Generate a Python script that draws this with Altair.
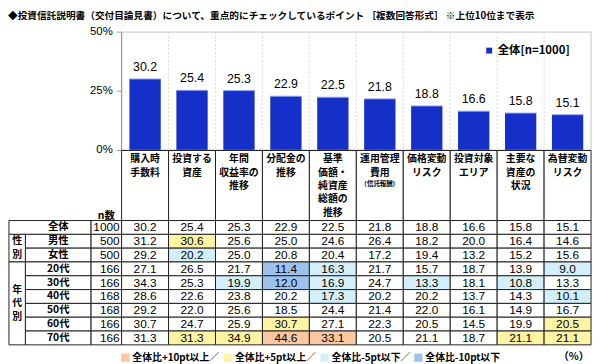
import altair as alt
import pandas as pd

# ---------------- data ----------------
TITLE = "◆投資信託説明書（交付目論見書）について、重点的にチェックしているポイント ［複数回答形式］ ※上位10位まで表示"

categories = ["購入時\n手数料", "投資する\n資産", "年間\n収益率の\n推移", "分配金の\n推移",
              "基準\n価額・\n純資産\n総額の\n推移", "運用管理\n費用", "価格変動\nリスク",
              "投資対象\nエリア", "主要な\n資産の\n状況", "為替変動\nリスク"]
category_notes = ["", "", "", "", "", "（信託報酬）", "", "", "", ""]
series_name = "全体[n=1000]"
overall = [30.2, 25.4, 25.3, 22.9, 22.5, 21.8, 18.8, 16.6, 15.8, 15.1]

row_labels = ["全体", "男性", "女性", "20代", "30代", "40代", "50代", "60代", "70代"]
row_groups = ["", "性別", "性別", "年代別", "年代別", "年代別", "年代別", "年代別", "年代別"]
row_n = [1000, 500, 500, 166, 166, 168, 168, 166, 166]
row_values = [
    overall,
    [31.2, 30.6, 25.6, 25.0, 24.6, 26.4, 18.2, 20.0, 16.4, 14.6],
    [29.2, 20.2, 25.0, 20.8, 20.4, 17.2, 19.4, 13.2, 15.2, 15.6],
    [27.1, 26.5, 21.7, 11.4, 16.3, 21.7, 15.7, 18.7, 13.9, 9.0],
    [34.3, 25.3, 19.9, 12.0, 16.9, 24.7, 13.3, 18.1, 10.8, 13.3],
    [28.6, 22.6, 23.8, 20.2, 17.3, 20.2, 20.2, 13.7, 14.3, 10.1],
    [29.2, 22.0, 25.6, 18.5, 24.4, 21.4, 22.0, 16.1, 14.9, 16.7],
    [30.7, 24.7, 25.9, 30.7, 27.1, 22.3, 20.5, 14.5, 19.9, 20.5],
    [31.3, 31.3, 34.9, 44.6, 33.1, 20.5, 21.1, 18.7, 21.1, 21.1],
]
y_ticks = [0, 25, 50]
legend_labels = ["全体比+10pt以上／", "全体比+5pt以上／", "全体比-5pt以下／", "全体比-10pt以下"]
n_header = "n数"
unit_label = "（%）"

# ---------------- styles / layout ----------------
JP = "Noto Sans CJK JP"
NUM = "Liberation Sans"
BAR_COLOR = "#1530C8"
HL_COLORS = ["#F9C7A0", "#FFF4A3", "#D3F0FA", "#9FC2EC"]
NONE = "なし"
LINE = "#222222"

COL_GROUP, COL_LABEL, COL_N = -2.40, -2.05, -0.65
X_DOMAIN = [-2.42, 10.02]
PANEL_W = 592
BAR_H = 120
ROW_PX = 14
HEADER_PX = 71
HEADER_ROWS = HEADER_PX / ROW_PX
GROUP_CHAR_PX = 13.5
ncat = len(categories)
nrows = len(row_labels)
TABLE_H = HEADER_PX + ROW_PX * nrows
ymax = max(y_ticks)

xs = alt.Scale(domain=X_DOMAIN, nice=False, zero=False)
ys = alt.Scale(domain=[min(y_ticks), ymax], nice=False, zero=False)
ts = alt.Scale(domain=[-HEADER_ROWS, nrows], reverse=True, nice=False, zero=False)


def X(f):
    return alt.X(f, type="quantitative", scale=xs, axis=None)


def YB(f):
    return alt.Y(f, type="quantitative", scale=ys, axis=None)


def YT(f):
    return alt.Y(f, type="quantitative", scale=ts, axis=None)


# ---------------- bar panel ----------------
bars_df = pd.DataFrame({"i": list(range(ncat)), "value": overall,
                        "series": series_name,
                        "label": [f"{v:.1f}" for v in overall]})
bars_df["x0"] = bars_df["i"] + 1 / 6
bars_df["x1"] = bars_df["i"] + 5 / 6
bars_df["xc"] = bars_df["i"] + 0.5
bars_df["base"] = 0

vgrid = alt.Chart(pd.DataFrame({"xg": list(range(1, ncat))})).mark_rule(
    color="#d8d8d8", strokeDash=[2, 2]).encode(x=X("xg"))

frame_light = alt.Chart(pd.DataFrame({"x0": [0, ncat], "x1": [ncat, ncat],
                                      "y0": [ymax, ymax], "y1": [ymax, 0]})).mark_rule(
    color="#c4c4c4").encode(x=X("x0"), x2="x1:Q", y=YB("y0"), y2="y1:Q")

bars = alt.Chart(bars_df).mark_rect().encode(
    x=X("x0"), x2="x1:Q", y=YB("value"), y2="base:Q",
    color=alt.Color("series:N", scale=alt.Scale(domain=[series_name], range=[BAR_COLOR]),
                    legend=alt.Legend(title=None, orient="none", legendX=482, legendY=13,
                                      symbolType="square", symbolSize=36,
                                      symbolStrokeWidth=0, labelOffset=3,
                                      labelFont=JP, labelFontSize=11.5,
                                      labelFontWeight="bold", labelColor="black")))

bar_top = alt.Chart(bars_df).mark_rule(color="#8A9EF2", strokeWidth=1).encode(
    x=X("x0"), x2="x1:Q", y=YB("value"))

bar_text = alt.Chart(bars_df).mark_text(baseline="bottom", dy=-5, font=NUM,
                                        fontSize=12.5, color="black").encode(
    x=X("xc"), y=YB("value"), text="label:N")

axis_df = pd.DataFrame({"x0": [0, 0], "x1": [0, ncat], "y0": [ymax, 0], "y1": [0, 0]})
axes = alt.Chart(axis_df).mark_rule(color="#9a9a9a", strokeWidth=1.3).encode(
    x=X("x0"), x2="x1:Q", y=YB("y0"), y2="y1:Q")

tick_df = pd.DataFrame({"t": y_ticks, "lab": [f"{t}%" for t in y_ticks]})
tick_df["x0"] = -0.1
tick_df["x1"] = 0.0
ticks = alt.Chart(tick_df).mark_rule(color="#9a9a9a").encode(
    x=X("x0"), x2="x1:Q", y=YB("t"))
tick_text = alt.Chart(tick_df).mark_text(align="right", baseline="middle", dx=-9,
                                         font=NUM, fontSize=11.5, color="black").encode(
    x=X("x1"), y=YB("t"), text="lab:N")

bar_panel = alt.layer(vgrid, frame_light, bars, bar_top, axes, ticks, bar_text,
                      tick_text).properties(width=PANEL_W, height=BAR_H)

# ---------------- table panel ----------------
def classify(r, c, v):
    if r == 0:
        return NONE
    d = round(v - overall[c], 1)
    if d >= 10:
        return legend_labels[0]
    if d >= 5:
        return legend_labels[1]
    if d <= -10:
        return legend_labels[3]
    if d <= -5:
        return legend_labels[2]
    return NONE


cells = []
for r, vals in enumerate(row_values):
    for c, v in enumerate(vals):
        cells.append({"x0": c, "x1": c + 1, "y0": r, "y1": r + 1,
                      "xc": c + 0.5, "yc": r + 0.5, "text": f"{v:.1f}",
                      "hl": classify(r, c, v)})
cells_df = pd.DataFrame(cells)

header_df = pd.DataFrame({"x0": list(range(ncat)), "x1": [i + 1 for i in range(ncat)],
                          "xc": [i + 0.5 for i in range(ncat)],
                          "y0": -HEADER_ROWS, "y1": 0.0,
                          "label": categories, "note": category_notes})

left_rects = []
left_texts = []
for r, (lab, n, g) in enumerate(zip(row_labels, row_n, row_groups)):
    if g == "":
        left_rects.append({"x0": COL_GROUP, "x1": COL_N, "y0": r, "y1": r + 1})
    else:
        left_rects.append({"x0": COL_LABEL, "x1": COL_N, "y0": r, "y1": r + 1})
    left_rects.append({"x0": COL_N, "x1": 0, "y0": r, "y1": r + 1})
    left_texts.append({"x": (COL_LABEL + COL_N) / 2, "y": r + 0.5, "t": lab})

group_rects = []
group_chars = []
for g in dict.fromkeys(x for x in row_groups if x):
    idx = [i for i, x in enumerate(row_groups) if x == g]
    y0, y1 = min(idx), max(idx) + 1
    group_rects.append({"x0": COL_GROUP, "x1": COL_LABEL, "y0": y0, "y1": y1})
    mid = (y0 + y1) / 2
    for k, ch in enumerate(g):
        group_chars.append({"x": (COL_GROUP + COL_LABEL) / 2,
                            "y": mid + (k - (len(g) - 1) / 2) * GROUP_CHAR_PX / ROW_PX,
                            "t": ch})
left_rects_df = pd.concat([pd.DataFrame(left_rects), pd.DataFrame(group_rects)])
left_texts_df = pd.DataFrame(left_texts)
group_chars_df = pd.DataFrame(group_chars)
n_df = pd.DataFrame({"x": 0.0, "y": [r + 0.5 for r in range(nrows)],
                     "t": [str(n) for n in row_n]})

rect_style = dict(stroke=LINE, strokeWidth=1)

l_rects = alt.Chart(left_rects_df).mark_rect(fill="white", **rect_style).encode(
    x=X("x0"), x2="x1:Q", y=YT("y0"), y2="y1:Q")
h_rects = alt.Chart(header_df).mark_rect(fill="white", **rect_style).encode(
    x=X("x0"), x2="x1:Q", y=YT("y0"), y2="y1:Q")
c_rects = alt.Chart(cells_df).mark_rect(**rect_style).encode(
    x=X("x0"), x2="x1:Q", y=YT("y0"), y2="y1:Q",
    color=alt.Color("hl:N",
                    scale=alt.Scale(domain=legend_labels + [NONE], range=HL_COLORS + ["white"]),
                    legend=alt.Legend(values=legend_labels, title=None, orient="none",
                                      direction="horizontal", legendX=114, legendY=205,
                                      symbolType="square", symbolSize=70,
                                      symbolStrokeWidth=0, labelOffset=2, columnPadding=3,
                                      labelFont=JP, labelFontSize=10,
                                      labelFontWeight="bold", labelColor="black")))

c_text = alt.Chart(cells_df).mark_text(font=NUM, fontSize=12, color="black",
                                       baseline="middle").encode(
    x=X("xc"), y=YT("yc"), text="text:N")
h_text = alt.Chart(header_df).mark_text(font=JP, fontSize=10, fontWeight="bold",
                                        color="black", baseline="top", dy=4,
                                        lineBreak="\n", lineHeight=13.5).encode(
    x=X("xc"), y=YT("y0"), text="label:N")
h_note = alt.Chart(header_df).mark_text(font=JP, fontSize=6.5, fontWeight="bold",
                                        color="black", baseline="top", dy=31).encode(
    x=X("xc"), y=YT("y0"), text="note:N")
l_text = alt.Chart(left_texts_df).mark_text(font=JP, fontSize=10.5, fontWeight="bold",
                                            color="black", baseline="middle").encode(
    x=X("x"), y=YT("y"), text="t:N")
g_text = alt.Chart(group_chars_df).mark_text(font=JP, fontSize=10, fontWeight="bold",
                                             color="black", baseline="middle").encode(
    x=X("x"), y=YT("y"), text="t:N")
n_text = alt.Chart(n_df).mark_text(font=NUM, fontSize=12, color="black", align="right",
                                   baseline="middle", dx=-2).encode(
    x=X("x"), y=YT("y"), text="t:N")
misc_df = pd.DataFrame({"x": [COL_N / 2, float(ncat)], "y": [0.0, float(nrows)],
                        "t": [n_header, unit_label],
                        "kind": ["n", "u"]})
nh_text = alt.Chart(misc_df).transform_filter("datum.kind == 'n'").mark_text(
    font=JP, fontSize=10.5, fontWeight="bold", color="black", baseline="bottom",
    dy=0).encode(x=X("x"), y=YT("y"), text="t:N")
u_text = alt.Chart(misc_df).transform_filter("datum.kind == 'u'").mark_text(
    font=JP, fontSize=10.5, fontWeight="bold", color="black", baseline="top",
    align="right", dy=7, dx=-2).encode(x=X("x"), y=YT("y"), text="t:N")

table_panel = alt.layer(l_rects, h_rects, c_rects, c_text, h_text, h_note, l_text,
                        g_text, n_text, nh_text, u_text).properties(
    width=PANEL_W, height=TABLE_H)

chart = alt.vconcat(bar_panel, table_panel, spacing=0, bounds="flush").resolve_scale(
    color="independent", x="independent", y="independent").properties(
    title=alt.TitleParams(TITLE, anchor="start", font=JP, fontSize=9.8,
                          fontWeight="bold", color="black", offset=6),
    padding={"left": 0, "top": 0, "right": 0, "bottom": 0}
).configure_view(stroke=None)

chart.save("out.html", embed_options={"renderer": "svg", "actions": False})
